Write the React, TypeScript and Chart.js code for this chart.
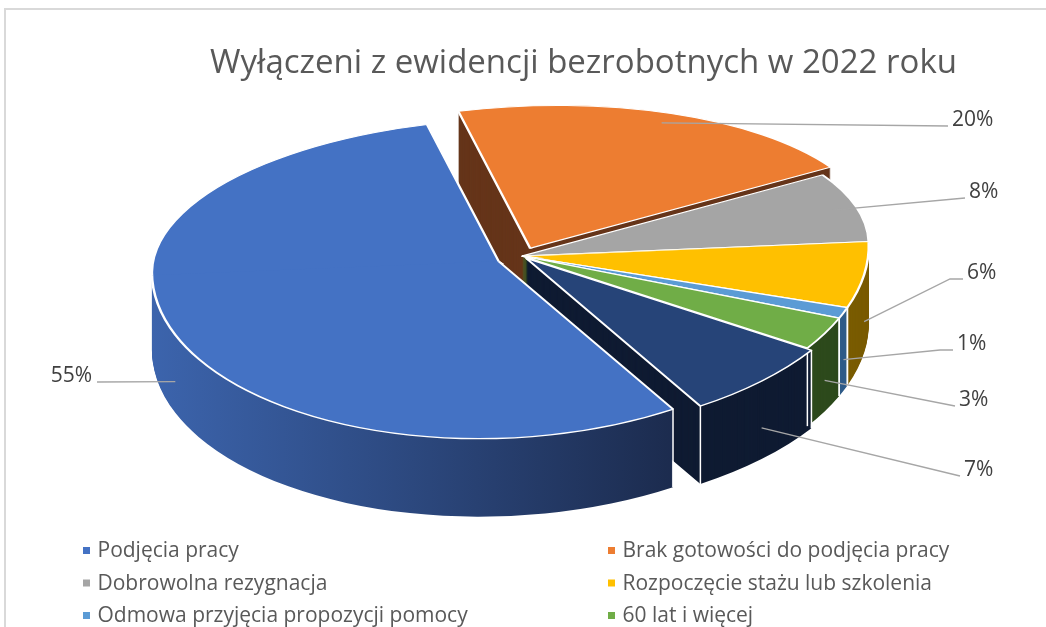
import React, { useEffect, useRef } from "react";
import { Chart, registerables } from "chart.js";
Chart.register(...registerables);

// ---- data ----
const categories = [
  "Podjęcia pracy",
  "Brak gotowości do podjęcia pracy",
  "Dobrowolna rezygnacja",
  "Rozpoczęcie stażu lub szkolenia",
  "Odmowa przyjęcia propozycji pomocy",
  "60 lat i więcej",
  "Inne",
];
const shares = [55, 20, 8, 6, 1, 3, 7];
const percentLabels = ["55%", "20%", "8%", "6%", "1%", "3%", "7%"];
const titleText = "Wyłączeni z ewidencji bezrobotnych w 2022 roku";

// ---- styles ----
const topColors = ["#4472C4", "#ED7D31", "#A5A5A5", "#FFC000", "#5B9BD5", "#70AD47", "#264478"];
const sideColors = ["", "#66351a", "#6a6a6a", "#7a5c00", "#2f5c88", "#2d4a1c", "#0f1b32"];
const explodePx = [25, 20, 0, 0, 0, 0, 6];
const CX = 522;
const CY = 256;
const R = 347;
const K_BACK = 0.41;
const K_FRONT = 0.51;
const TILT = (2.3 * Math.PI) / 180;
const DEPTH = 78;
const START_ANGLE = 151;
const FONT = "'Open Sans', 'Noto Sans', sans-serif";
const W = 1046;
const H = 627;

// annotation placement (text anchor x, center y, elbow length, align)
const labelLayout = [
  { x: 92, y: 376, elbow: 0, align: "right" },
  { x: 952, y: 120, elbow: 0, align: "left" },
  { x: 969, y: 192, elbow: 0, align: "left" },
  { x: 967, y: 273, elbow: 13, align: "left" },
  { x: 957, y: 344, elbow: 13, align: "left" },
  { x: 959, y: 400, elbow: 0, align: "left" },
  { x: 964, y: 470, elbow: 0, align: "left" },
];

// plane point (relative to centre) -> screen offset
function toScreen(px: number, py: number) {
  const k = py < 0 ? K_BACK : K_FRONT;
  const y = py * k;
  const c = Math.cos(TILT);
  const s = Math.sin(TILT);
  return { x: px * c + y * s, y: -px * s + y * c };
}

function explodeScreen(arc: any, i: number) {
  const half = (arc.startAngle + arc.endAngle) / 2;
  const p = toScreen(Math.cos(half) * explodePx[i], Math.sin(half) * explodePx[i]);
  return { sx: p.x, sy: p.y };
}

function project(arc: any, i: number, angle: number, rf: number) {
  const { sx, sy } = explodeScreen(arc, i);
  const p = toScreen(Math.cos(angle) * arc.outerRadius * rf, Math.sin(angle) * arc.outerRadius * rf);
  return { x: arc.x + sx + p.x, y: arc.y + sy + p.y };
}

// draw one arc element in pseudo-perspective (two half-ellipses), shifted down by d
function drawArcPersp(ctx: CanvasRenderingContext2D, arc: any, i: number, d: number) {
  const { sx, sy } = explodeScreen(arc, i);
  const cx = arc.x;
  const cy = arc.y;
  for (let h = 0; h < 2; h++) {
    const k = h === 0 ? K_BACK : K_FRONT;
    ctx.save();
    ctx.translate(cx + sx, cy + sy + d);
    ctx.rotate(-TILT);
    ctx.beginPath();
    if (h === 0) ctx.rect(-2000, -2000, 4000, 2003);
    else ctx.rect(-2000, 0, 4000, 2000);
    ctx.clip();
    ctx.scale(1, k);
    ctx.translate(-cx, -cy);
    arc.draw(ctx);
    ctx.restore();
  }
}

const pie3d = {
  id: "pie3d",
  beforeDatasetsDraw(chart: any) {
    const meta = chart.getDatasetMeta(0);
    const arcs = meta.data;
    if (!arcs.length) return false;
    const ctx = chart.ctx as CanvasRenderingContext2D;
    const cx = arcs[0].x;
    const grad = ctx.createLinearGradient(cx - R - 20, 0, cx + 180, 0);
    grad.addColorStop(0, "#3d66b0");
    grad.addColorStop(1, "#1b2a4c");
    const sides = sideColors.map((c, i) => (i === 0 ? grad : c));
    // side walls (stacked layers, bottom to top)
    for (let d = DEPTH; d >= 1; d--) {
      arcs.forEach((arc: any, i: number) => {
        const orig = arc.options;
        arc.options = { ...orig, backgroundColor: sides[i], borderWidth: 0, offset: 0 };
        drawArcPersp(ctx, arc, i, d);
        arc.options = orig;
      });
    }
    // white vertical edges at visible slice boundaries
    ctx.save();
    ctx.strokeStyle = "#ffffff";
    ctx.lineWidth = 1.5;
    arcs.forEach((arc: any, i: number) => {
      [arc.startAngle, arc.endAngle].forEach((a: number) => {
        if (Math.sin(a) < 0.05) return;
        const p = project(arc, i, a, 1);
        ctx.beginPath();
        ctx.moveTo(p.x, p.y);
        ctx.lineTo(p.x, p.y + DEPTH);
        ctx.stroke();
      });
    });
    ctx.restore();
    // top faces
    arcs.forEach((arc: any, i: number) => drawArcPersp(ctx, arc, i, 0));
    return false;
  },
  afterDraw(chart: any) {
    const ctx = chart.ctx as CanvasRenderingContext2D;
    const arcs = chart.getDatasetMeta(0).data;
    ctx.save();
    // title
    ctx.fillStyle = "#595959";
    ctx.font = `33px ${FONT}`;
    ctx.textAlign = "center";
    ctx.textBaseline = "alphabetic";
    ctx.fillText(titleText, 583.5, 73);
    // percent labels with leader lines
    ctx.font = `21px ${FONT}`;
    ctx.textBaseline = "middle";
    arcs.forEach((arc: any, i: number) => {
      const L = labelLayout[i];
      const half = (arc.startAngle + arc.endAngle) / 2;
      const front = Math.sin(half) > 0.15;
      const a = project(arc, i, half, front ? 1 : 0.93);
      const ax = a.x;
      const ay = a.y + (front ? DEPTH * 0.6 : 0);
      const endX = L.align === "right" ? L.x + 5 : L.x - 4;
      const endY = L.y + 6;
      ctx.strokeStyle = "#a6a6a6";
      ctx.lineWidth = 1.3;
      ctx.beginPath();
      ctx.moveTo(ax, ay);
      if (L.elbow > 0) ctx.lineTo(endX - L.elbow, endY);
      ctx.lineTo(endX, endY);
      ctx.stroke();
      ctx.fillStyle = "#404040";
      ctx.textAlign = L.align as CanvasTextAlign;
      ctx.fillText(percentLabels[i], L.x, L.y);
    });
    // legend
    ctx.font = `21px ${FONT}`;
    ctx.textAlign = "left";
    ctx.textBaseline = "alphabetic";
    categories.forEach((name, i) => {
      const col = i % 2;
      const row = Math.floor(i / 2);
      const mx = col === 0 ? 83 : 608;
      const base = 557 + row * 32.5;
      ctx.fillStyle = topColors[i];
      ctx.fillRect(mx, base - 10, 7, 7);
      ctx.fillStyle = "#595959";
      ctx.fillText(name, mx + 14.5, base);
    });
    ctx.restore();
  },
};

export default function App() {
  const ref = useRef<HTMLCanvasElement>(null);
  useEffect(() => {
    const canvas = ref.current;
    if (!canvas) return;
    const chart = new Chart(canvas, {
      type: "pie",
      data: {
        labels: categories,
        datasets: [
          {
            data: shares,
            backgroundColor: topColors,
            borderColor: "#ffffff",
            borderWidth: 2.5,
          },
        ],
      },
      options: {
        responsive: false,
        animation: false,
        rotation: START_ANGLE,
        radius: R,
        events: [],
        layout: { padding: { left: 0, right: W - 2 * CX, top: 0, bottom: H - 2 * CY } },
        plugins: { legend: { display: false }, tooltip: { enabled: false } },
      } as any,
      plugins: [pie3d as any],
    });
    return () => chart.destroy();
  }, []);
  return (
    <div style={{ position: "fixed", left: 0, top: 0, width: W, height: H, overflow: "hidden", background: "#fff" }}>
      <div
        style={{
          position: "absolute",
          left: 4,
          top: 8,
          width: 1100,
          height: 700,
          border: "2px solid #d9d9d9",
          boxSizing: "border-box",
        }}
      />
      <canvas ref={ref} width={W} height={H} style={{ position: "absolute", left: 0, top: 0, width: W, height: H }} />
    </div>
  );
}
